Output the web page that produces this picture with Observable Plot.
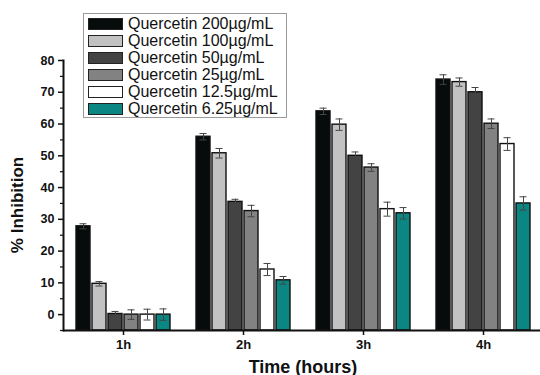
<!DOCTYPE html>
<html>
<head>
<meta charset="utf-8">
<script src="https://cdn.jsdelivr.net/npm/d3@7"></script>
<script src="https://cdn.jsdelivr.net/npm/@observablehq/plot@0.6"></script>
<style>
  body { margin: 0; background: #fff; }
  #wrap { position: relative; width: 540px; height: 375px; font-family: "Liberation Sans", Arial, sans-serif; }
  #legend { position: absolute; left: 83px; top: 13px; width: 202px; height: 103px; border: 1px solid #9a9a9a; background: #fff; }
  .row { position: absolute; left: 4px; height: 17px; display: flex; align-items: center; }
  .sw { width: 35px; height: 12px; border: 1px solid #222; margin-right: 5px; box-sizing: border-box; }
  .lt { font-size: 16px; color: #111; white-space: nowrap; }
  #ylab { position: absolute; left: 18px; top: 205px; transform: translate(-50%, -50%) rotate(-90deg); font-weight: bold; font-size: 17px; white-space: nowrap; color: #111; }
  #xlab { position: absolute; left: 303px; top: 367px; transform: translate(-50%, -50%); font-weight: bold; font-size: 18px; white-space: nowrap; color: #111; }
</style>
</head>
<body>
<div id="wrap"></div>
<script>
const times = ["1h", "2h", "3h", "4h"];
const series = ["Quercetin 200µg/mL", "Quercetin 100µg/mL", "Quercetin 50µg/mL", "Quercetin 25µg/mL", "Quercetin 12.5µg/mL", "Quercetin 6.25µg/mL"];
const colors = ["#060b0b", "#c2c2c2", "#434343", "#828282", "#ffffff", "#0b8682"];

const v200 = [27.8, 56.0, 64.0, 74.0];
const v100 = [9.7, 50.8, 59.8, 73.2];
const v50 = [0.2, 35.5, 50.0, 70.0];
const v25 = [0.0, 32.6, 46.3, 60.1];
const v12_5 = [0.0, 14.2, 33.2, 53.7];
const v6_25 = [0.0, 10.8, 31.9, 35.0];

const e200 = [0.8, 1.0, 1.0, 1.5];
const e100 = [0.7, 1.5, 1.8, 1.3];
const e50 = [0.8, 0.8, 1.2, 1.5];
const e25 = [1.5, 1.8, 1.2, 1.5];
const e12_5 = [1.7, 1.9, 2.2, 2.0];
const e6_25 = [1.8, 1.2, 1.8, 2.1];

const yTicks = [0, 10, 20, 30, 40, 50, 60, 70, 80];
const yMinor = [-5, 5, 15, 25, 35, 45, 55, 65, 75];
const yBase = -5;

const values = [v200, v100, v50, v25, v12_5, v6_25];
const errors = [e200, e100, e50, e25, e12_5, e6_25];
const data = [];
series.forEach((s, i) => times.forEach((t, j) => data.push({time: t, series: s, value: values[i][j], err: errors[i][j]})));

const chart = Plot.plot({
  width: 540,
  height: 375,
  marginLeft: 63,
  marginRight: -3,
  marginTop: 60,
  marginBottom: 45,
  style: {fontFamily: "Liberation Sans, Arial, sans-serif", color: "#111", background: "#fff"},
  fx: {domain: times, padding: 0, label: null},
  x: {domain: series, paddingInner: 0.13, paddingOuter: 0.66, axis: null},
  y: {domain: [yBase, 80], axis: null},
  color: {domain: series, range: colors},
  marks: [
    Plot.barY(data, {fx: "time", x: "series", y1: yBase, y2: "value", fill: "series", stroke: "#111", strokeWidth: 1.4}),
    Plot.ruleX(data, {fx: "time", x: "series", y1: d => d.value - d.err, y2: d => d.value + d.err, stroke: "#444", strokeWidth: 1}),
    Plot.tickY(data, {fx: "time", x: "series", y: d => d.value - d.err, stroke: "#444", strokeWidth: 1, insetLeft: 3.5, insetRight: 3.5}),
    Plot.tickY(data, {fx: "time", x: "series", y: d => d.value + d.err, stroke: "#444", strokeWidth: 1, insetLeft: 3.5, insetRight: 3.5}),
    Plot.ruleY([yBase], {stroke: "#111", strokeWidth: 2}),
    Plot.frame({anchor: "left", facetAnchor: "left", stroke: "#111", strokeWidth: 2}),
    Plot.axisY({ticks: yTicks, tickSize: 5, tickPadding: 4, fontSize: 12.5, fontWeight: "bold", label: null, strokeWidth: 1.5}),
    Plot.axisY({ticks: yMinor, tickSize: 3, text: null, label: null, strokeWidth: 1.2}),
    Plot.axisFx({anchor: "bottom", tickSize: 5, tickPadding: 4, fontSize: 13, fontWeight: "bold", label: null, strokeWidth: 1.5})
  ]
});

const wrap = document.getElementById("wrap");
wrap.appendChild(chart);

const legend = document.createElement("div");
legend.id = "legend";
series.forEach((s, i) => {
  const row = document.createElement("div");
  row.className = "row";
  row.style.top = (1 + i * 17) + "px";
  const sw = document.createElement("div");
  sw.className = "sw";
  sw.style.background = colors[i];
  const lt = document.createElement("span");
  lt.className = "lt";
  lt.textContent = s;
  row.appendChild(sw);
  row.appendChild(lt);
  legend.appendChild(row);
});
wrap.appendChild(legend);

const ylab = document.createElement("div");
ylab.id = "ylab";
ylab.textContent = "% Inhibition";
wrap.appendChild(ylab);

const xlab = document.createElement("div");
xlab.id = "xlab";
xlab.textContent = "Time (hours)";
wrap.appendChild(xlab);
</script>
</body>
</html>
